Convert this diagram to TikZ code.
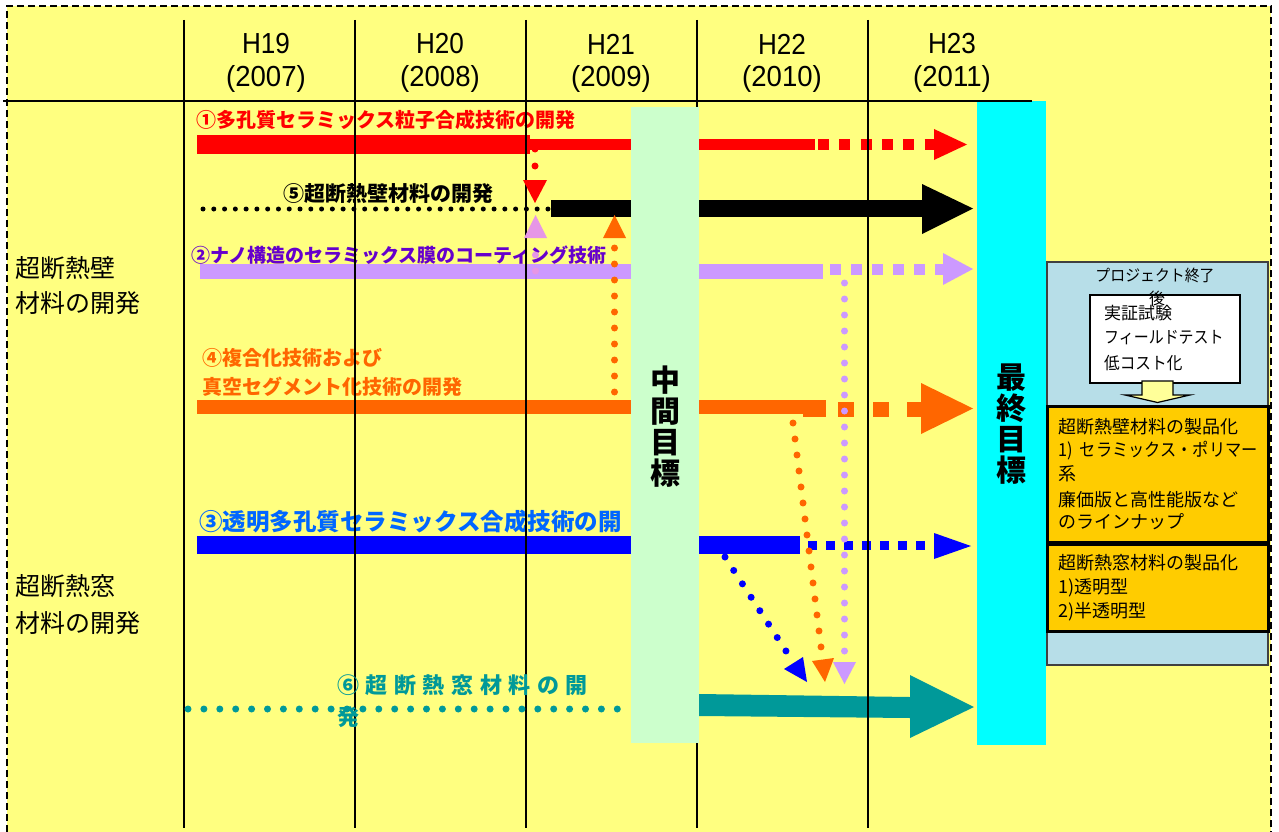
\documentclass[tikz,border=0pt]{standalone}
\usepackage{graphicx}
\usepackage{fontspec}
\setmainfont{Liberation Sans}
\newfontfamily\jp{Noto Sans CJK JP}
\newfontfamily\jpsp{Noto Sans CJK JP}[LetterSpace=30]
\definecolor{bgy}{RGB}{255,255,128}
\definecolor{pbar}{RGB}{204,153,255}
\definecolor{ptxt}{RGB}{102,0,204}
\definecolor{pinkc}{RGB}{230,150,230}
\definecolor{orng}{RGB}{255,102,0}
\definecolor{btxt}{RGB}{0,102,255}
\definecolor{tealc}{RGB}{0,153,153}
\definecolor{lgreen}{RGB}{204,255,204}
\definecolor{lblue}{RGB}{183,222,232}
\definecolor{goldc}{RGB}{255,204,0}
\definecolor{lyel}{RGB}{255,255,153}
\definecolor{cyanc}{RGB}{0,255,255}
\tikzset{
  dotl/.style={line width=7pt, line cap=round, dash pattern=on 0pt off #1},
  grid/.style={line width=1.4pt, black},
  hdr/.style={inner sep=0pt, font=\fontsize{29}{31}\selectfont},
  lab/.style={inner sep=0pt, anchor=west},
  side/.style={inner sep=0pt, anchor=west, font=\jp\fontsize{25}{27}\selectfont},
  boxt/.style={inner sep=0pt, anchor=west, font=\jp\fontsize{17}{19}\selectfont},
  obt/.style={inner sep=0pt, anchor=west, font=\jp\fontsize{18}{20}\selectfont},
  goal/.style={inner sep=0pt, align=center, font=\jp\bfseries\fontsize{30}{31}\selectfont}
}
\begin{document}
\begin{tikzpicture}[x=1pt,y=-1pt]
\useasboundingbox (0,0) rectangle (1279,832);
\fill[white] (0,0) rectangle (1279,832);
\fill[bgy] (7,6) rectangle (1271,832);
\draw[line width=1.4pt, dash pattern=on 7pt off 4pt] (7,832) -- (7,6) -- (1271,6) -- (1271,832);

% header texts
\node[hdr] (h19) at (266,44) {\scalebox{0.9}[1]{H19}};
\node[hdr] (y19) at (266,79) {\scalebox{0.95}[1]{(2007)}};
\node[hdr] (h20) at (440,44) {\scalebox{0.9}[1]{H20}};
\node[hdr] (y20) at (440,79) {\scalebox{0.95}[1]{(2008)}};
\node[hdr] (h21) at (611,44) {\scalebox{0.9}[1]{H21}};
\node[hdr] (y21) at (611,79) {\scalebox{0.95}[1]{(2009)}};
\node[hdr] (h22) at (782,44) {\scalebox{0.9}[1]{H22}};
\node[hdr] (y22) at (782,79) {\scalebox{0.95}[1]{(2010)}};
\node[hdr] (h23) at (952,44) {\scalebox{0.9}[1]{H23}};
\node[hdr] (y23) at (952,79) {\scalebox{0.95}[1]{(2011)}};

% side labels
\node[side] (s1a) at (15,268) {超断熱壁};
\node[side] (s1b) at (15,303) {材料の開発};
\node[side] (s2a) at (15,586) {超断熱窓};
\node[side] (s2b) at (15,623) {材料の開発};

% ---- row 1 red
\fill[red] (197,135) rectangle (530,154);
\fill[red] (530,139) rectangle (815,150);
\draw[red, line width=11pt, dash pattern=on 11pt off 10.3pt] (818,144.5) -- (934,144.5);
\coordinate (r1a) at (934,129); \coordinate (r1t) at (967,144.5); \coordinate (r1b) at (934,160);
\fill[red] (r1a) -- (r1t) -- (r1b) -- cycle;
\node[lab, red, font=\jp\bfseries\fontsize{20}{22}\selectfont] (t1) at (196,120) {①多孔質セラミックス粒子合成技術の開発};

% ---- row 5 black
\fill[black] (551,200) rectangle (922,217);
\fill[black] (922,184) -- (973,208.5) -- (922,234) -- cycle;
\node[lab, font=\jp\bfseries\fontsize{21}{23}\selectfont] (t5) at (283,194) {⑤超断熱壁材料の開発};

% ---- row 2 purple
\fill[pbar] (200,264) rectangle (823,279);
\draw[pbar, line width=11pt, dash pattern=on 11pt off 10pt] (830,269) -- (943,269);
\fill[pbar] (943,253) -- (973,269) -- (943,285) -- cycle;
\node[lab, ptxt, font=\jp\bfseries\fontsize{19}{21}\selectfont] (t2) at (191,255) {②ナノ構造のセラミックス膜のコーティング技術};

% ---- row 4 orange
\fill[orng] (197,400) rectangle (806,414);
\fill[orng] (803,400) rectangle (826,417);
\fill[orng] (838,402) rectangle (854,417);
\fill[orng] (873,402) rectangle (889,417);
\fill[orng] (907,402) rectangle (922,417);
\fill[orng] (921,383) -- (973,408.5) -- (921,434) -- cycle;
\node[lab, orng, font=\jp\bfseries\fontsize{20}{22}\selectfont] (t4a) at (202,358) {④複合化技術および};
\node[lab, orng, font=\jp\bfseries\fontsize{20}{22}\selectfont] (t4b) at (202,387) {真空セグメント化技術の開発};

% ---- row 3 blue
\fill[blue] (197,536) rectangle (800,554);
\draw[blue, line width=9pt, dash pattern=on 9pt off 9pt] (808,545.5) -- (934,545.5);
\fill[blue] (934,533) -- (971,546) -- (934,559) -- cycle;
\node[lab, btxt, font=\jp\bfseries\fontsize{23.5}{25}\selectfont] (t3) at (199,522) {③透明多孔質セラミックス合成技術の開};

% ---- row 6 teal
\fill[tealc] (699,694) -- (910,697) -- (910,718) -- (699,716) -- cycle;
\fill[tealc] (910,675) -- (974,707) -- (910,738) -- cycle;

% grid lines
\foreach \gx/\gn in {184/g1,355/g2,526/g3,697/g4,868/g5}{
  \draw[grid] (\gx,20) coordinate (\gn t) -- (\gx,828) coordinate (\gn b);
}

% teal dots and label
\coordinate (d6a) at (188,709); \coordinate (d6b) at (617.5,709);
\draw[tealc, dotl=15.9pt] (d6a) -- (d6b);
\node[lab, tealc, font=\jpsp\bfseries\fontsize{22}{24}\selectfont] (t6a) at (337,685) {⑥超断熱窓材料の開};
\node[lab, tealc, font=\jp\bfseries\fontsize{22}{24}\selectfont] (t6b) at (337,717) {発};

% black dotted
\draw[black, line width=5pt, line cap=round, dash pattern=on 0pt off 10.78pt] (203,209) -- (548.3,209);

% red dotted down to row 5
\coordinate (rd1) at (535,149); \coordinate (rd2) at (535,166.3);
\draw[red, dotl=17pt] (rd1) -- (rd2);
\fill[red] (523,180) -- (547,180) -- (535,203) -- cycle;

% pink dotted up
\draw[pinkc, dotl=16pt] (535.5,255) -- (535.5,271.3);
\fill[pinkc] (524,238) -- (547,238) -- (535.5,215) -- cycle;

% orange dotted up
\draw[orng, dotl=16pt] (614.5,248) -- (614.5,392.3);
\fill[orng] (603,238) -- (626,238) -- (614.5,215) -- cycle;

% purple dotted down
\draw[pbar, dotl=16pt] (844.5,283) -- (844.5,651.3);
\fill[pbar] (833,662) -- (856,662) -- (844.5,684) -- cycle;

% orange dotted down
\draw[orng, dotl=16.12pt] (793,423) -- (821.05,647.3);
\fill[orng] (812,661) -- (834,658) -- (825,682) -- cycle;

% blue dotted down
\draw[blue, dotl=16pt] (725,557) -- (786.1,651.2);
\fill[blue] (784,669) -- (803,657) -- (807,682) -- cycle;

% intermediate goal
\fill[lgreen] (631,107) rectangle (699,743);
\node[goal] (mid) at (665,427) {中\\間\\目\\標};

% final goal
\fill[cyanc] (977,101) rectangle (1046,745);
\node[goal] (fin) at (1011,424) {最\\終\\目\\標};

% header line
\draw[line width=2pt] (3,101) -- (1032,101);

% right box
\draw[fill=lblue, draw=black!75, line width=1.5pt] (1047,262) rectangle (1268,665);
\node[inner sep=0pt, font=\jp\fontsize{16}{18}\selectfont] (pe1) at (1155,275) {\scalebox{0.93}[1]{プロジェクト終了}};
\draw[fill=white, line width=1.5pt] (1090,295) rectangle (1240,383);
\node[inner sep=0pt, font=\jp\fontsize{16}{18}\selectfont] (pe2) at (1157,298) {後};
\node[boxt] (w1) at (1104,313) {実証試験};
\node[boxt] (w2) at (1104,338) {\scalebox{0.88}[1]{フィールドテスト}};
\node[boxt] (w3) at (1104,363) {\scalebox{0.92}[1]{低コスト化}};
\draw[fill=lyel, line width=1.2pt] (1142,381) -- (1173,381) -- (1173,395) -- (1190,395) -- (1157.5,402.5) -- (1125,395) -- (1142,395) -- cycle;

\draw[fill=goldc, line width=3pt] (1047,406) rectangle (1268,542);
\node[obt] (o1) at (1058,427) {超断熱壁材料の製品化};
\node[obt] (o2) at (1058,451) {\scalebox{0.9}[1]{1)\ \ セラミックス・ポリマー}};
\node[obt] (o3) at (1058,474) {系};
\node[obt] (o4) at (1058,500) {廉価版と高性能版など};
\node[obt] (o5) at (1058,522) {のラインナップ};

\draw[fill=goldc, line width=3pt] (1047,544) rectangle (1268,631);
\node[obt] (p1) at (1058,563) {超断熱窓材料の製品化};
\node[obt] (p2) at (1058,588) {1)透明型};
\node[obt] (p3) at (1058,612) {2)半透明型};
\end{tikzpicture}
\end{document}
